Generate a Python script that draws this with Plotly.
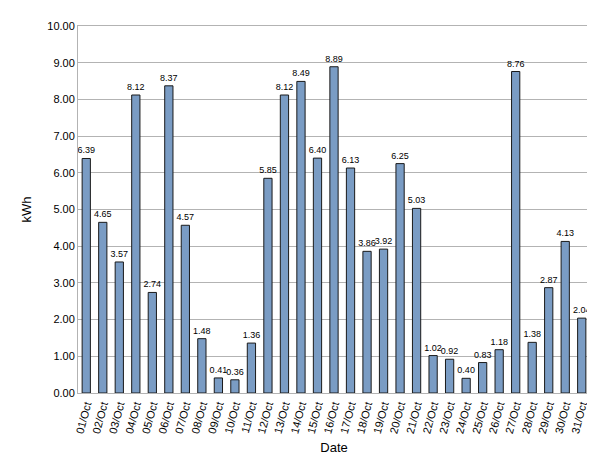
import plotly.graph_objects as go

dates = [f"{d:02d}/Oct" for d in range(1, 32)]
values = [6.39, 4.65, 3.57, 8.12, 2.74, 8.37, 4.57, 1.48, 0.41, 0.36, 1.36, 5.85, 8.12, 8.49, 6.40,
          8.89, 6.13, 3.86, 3.92, 6.25, 5.03, 1.02, 0.92, 0.40, 0.83, 1.18, 8.76, 1.38, 2.87, 4.13, 2.04]

fig = go.Figure(go.Bar(
    x=dates, y=values, text=[f"{v:.2f}" for v in values], textposition="outside",
    textfont=dict(size=9, color="black"), cliponaxis=False, constraintext="none",
    marker=dict(color="#7a9cc4", line=dict(color="#1a1a1a", width=1)), width=0.5))

fig.update_layout(
    width=595, height=471, margin=dict(l=70, r=12, t=12, b=86),
    plot_bgcolor="white", paper_bgcolor="white", showlegend=False,
    font=dict(family="Liberation Sans, Arial", size=11, color="black"),
    bargap=0.5)
fig.update_yaxes(range=[0, 10], dtick=1, tickformat=".2f", showgrid=True, gridcolor="#b3b3b3",
                 showline=True, linecolor="#b3b3b3", mirror=True, ticks="", zeroline=False,
                 title=dict(text="kWh", standoff=12))
fig.update_xaxes(tickangle=-75, showline=True, linecolor="#b3b3b3", mirror=True, automargin=False,
                 title=dict(text="Date", standoff=8))
fig.write_html("out.html")
